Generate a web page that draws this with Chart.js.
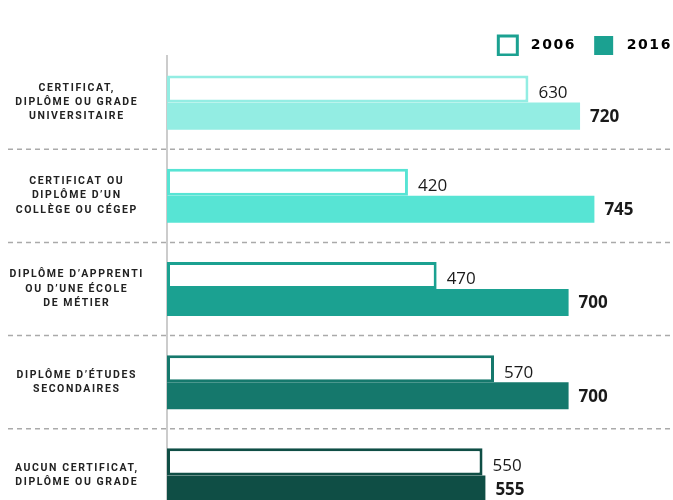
<!DOCTYPE html>
<html>
<head>
<meta charset="utf-8">
<script src="https://cdn.jsdelivr.net/npm/chart.js@4.4.0/dist/chart.umd.min.js"></script>
<style>
  html, body { margin: 0; padding: 0; background: #fff; overflow: hidden; }
  canvas { display: block; }
</style>
</head>
<body>
<canvas id="eduChart" width="673" height="522"></canvas>
<script>
const categories = [
    ['CERTIFICAT,', 'DIPLÔME OU GRADE', 'UNIVERSITAIRE'],
    ['CERTIFICAT OU', 'DIPLÔME D’UN', 'COLLÈGE OU CÉGEP'],
    ['DIPLÔME D’APPRENTI', 'OU D’UNE ÉCOLE', 'DE MÉTIER'],
    ['DIPLÔME D’ÉTUDES', 'SECONDAIRES'],
    ['AUCUN CERTIFICAT,', 'DIPLÔME OU GRADE']
];
const seriesLabels = ['2006', '2016'];
const values2006 = [630, 420, 470, 570, 550];
const values2016 = [720, 745, 700, 700, 555];

// one shade per category, same for both years
const shades = ['#93ede3', '#57e4d4', '#1ba191', '#15786c', '#0f4e45'];
const legendColor = '#1ba191';
const spacing = '1.6px';

// dashed separators between categories, across the whole width
const separators = {
    id: 'separators',
    beforeLayout(chart) {
        // measure labels with the same spacing they are drawn with
        chart.ctx.letterSpacing = spacing;
    },
    beforeDraw(chart) {
        const ctx = chart.ctx;
        const y = chart.scales.y;
        ctx.save();
        ctx.strokeStyle = '#aaaaaa';
        ctx.lineWidth = 1.5;
        ctx.setLineDash([5, 4]);
        for (let i = 0; i < categories.length - 1; i++) {
            const yy = (y.getPixelForValue(i) + y.getPixelForValue(i + 1)) / 2;
            ctx.beginPath();
            ctx.moveTo(8, yy);
            ctx.lineTo(chart.width, yy);
            ctx.stroke();
        }
        ctx.restore();
        ctx.letterSpacing = spacing;
    },
    beforeDatasetsDraw(chart) {
        chart.ctx.letterSpacing = '0px';
    }
};

// value at the end of each bar
const valueLabels = {
    id: 'valueLabels',
    afterDatasetsDraw(chart) {
        const ctx = chart.ctx;
        ctx.save();
        ctx.fillStyle = '#1a1a1a';
        ctx.textBaseline = 'middle';
        ctx.textAlign = 'left';
        chart.data.datasets.forEach((ds, di) => {
            const meta = chart.getDatasetMeta(di);
            meta.data.forEach((bar, i) => {
                ctx.font = (di === 1 ? 'bold ' : '') + '17px "Open Sans"';
                ctx.fillText(String(ds.data[i]), bar.x + 10, bar.y + (di === 0 ? 4 : 1));
            });
        });
        ctx.restore();
    }
};

const ctx = document.getElementById('eduChart').getContext('2d');
new Chart(ctx, {
    type: 'bar',
    data: {
        labels: categories,
        datasets: [{
            label: seriesLabels[0],
            data: values2006,
            backgroundColor: '#ffffff',
            borderColor: shades,
            borderWidth: 3,
            borderSkipped: false
        }, {
            label: seriesLabels[1],
            data: values2016,
            backgroundColor: shades,
            borderWidth: 0
        }]
    },
    options: {
        indexAxis: 'y',
        responsive: false,
        animation: false,
        layout: { padding: { top: 18, right: -17, left: 0, bottom: 0 } },
        datasets: {
            bar: { categoryPercentage: 0.58, barPercentage: 1.0 }
        },
        scales: {
            x: {
                display: false,
                min: 0,
                max: 882
            },
            y: {
                grid: { display: false },
                border: { display: true, color: '#cccccc', width: 2 },
                afterFit(scale) {
                    scale.width = 167;
                    scale.paddingTop = 0;
                    scale.paddingBottom = 0;
                },
                ticks: {
                    autoSkip: false,
                    crossAlign: 'center',
                    padding: 15,
                    color: '#222222',
                    font: { family: 'Roboto', size: 10.5, weight: 'bold', lineHeight: 1.35 }
                }
            }
        },
        plugins: {
            tooltip: { enabled: false },
            legend: {
                position: 'top',
                align: 'end',
                maxHeight: 38,
                labels: {
                    boxWidth: 19,
                    boxHeight: 19,
                    padding: 18,
                    color: '#1a1a1a',
                    font: { family: '"DejaVu Sans"', size: 14, weight: 'bold' },
                    generateLabels: () => [
                        { text: ' ' + seriesLabels[0], fillStyle: '#ffffff', strokeStyle: legendColor, lineWidth: 3, datasetIndex: 0 },
                        { text: ' ' + seriesLabels[1], fillStyle: legendColor, strokeStyle: legendColor, lineWidth: 0, datasetIndex: 1 }
                    ]
                }
            }
        }
    },
    plugins: [separators, valueLabels]
});
</script>
</body>
</html>
